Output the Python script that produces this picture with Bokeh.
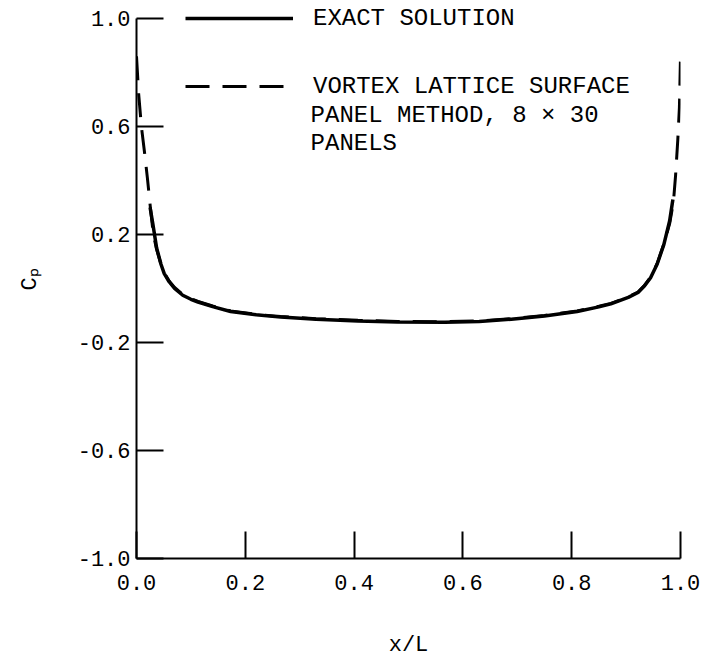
from bokeh.plotting import figure
from bokeh.models import Range1d, FixedTicker, PrintfTickFormatter, Legend, LegendItem, Label
from bokeh.embed import file_html
from bokeh.resources import INLINE

# Exact solution (solid)
exact_x = [0.025, 0.03, 0.037, 0.045, 0.051, 0.06, 0.07, 0.085, 0.1, 0.113, 0.14, 0.173,
           0.22, 0.265, 0.33, 0.407, 0.48, 0.567, 0.63, 0.689, 0.75, 0.81, 0.85, 0.872,
           0.904, 0.922, 0.934, 0.945, 0.957, 0.969, 0.98, 0.986]
exact_cp = [0.30, 0.24, 0.15, 0.09, 0.055, 0.025, 0.0, -0.025, -0.04, -0.05, -0.067, -0.085,
            -0.097, -0.106, -0.114, -0.12, -0.124, -0.125, -0.122, -0.114, -0.102, -0.085, -0.068, -0.057,
            -0.033, -0.015, 0.01, 0.04, 0.09, 0.16, 0.25, 0.33]

# Vortex lattice surface panel method (dashed)
vl_x = [0.0, 0.004, 0.009, 0.015, 0.02, 0.026, 0.031, 0.037, 0.045, 0.051, 0.06, 0.07,
        0.085, 0.1, 0.113, 0.14, 0.173, 0.22, 0.265, 0.33, 0.407, 0.48, 0.567, 0.63,
        0.689, 0.75, 0.81, 0.85, 0.872, 0.904, 0.922, 0.934, 0.945, 0.957, 0.969, 0.98,
        0.987, 0.991, 0.995, 0.998, 1.0]
vl_cp = [0.86, 0.72, 0.60, 0.50, 0.41, 0.29, 0.2, 0.145, 0.09, 0.058, 0.028, 0.004,
         -0.022, -0.038, -0.048, -0.065, -0.083, -0.096, -0.104, -0.112, -0.118, -0.122, -0.123, -0.12,
         -0.112, -0.1, -0.083, -0.066, -0.055, -0.031, -0.013, 0.012, 0.042, 0.092, 0.163, 0.24,
         0.32, 0.42, 0.55, 0.67, 0.86]

x_ticks = [0.0, 0.2, 0.4, 0.6, 0.8, 1.0]
y_ticks = [-1.0, -0.6, -0.2, 0.2, 0.6, 1.0]

legend_labels = ["EXACT SOLUTION", "VORTEX LATTICE SURFACE"]
legend_extra = ["PANEL METHOD, 8 \u00d7 30", "PANELS"]

FONT = "Liberation Mono"

p = figure(frame_width=544, frame_height=558, min_border_left=136, min_border_right=28,
           min_border_top=0, min_border_bottom=100,
           x_range=Range1d(0, 1), y_range=Range1d(-1, 1 + 18 / 270),
           output_backend="svg", toolbar_location=None)
p.xgrid.visible = False
p.ygrid.visible = False
p.outline_line_color = None

r1 = p.line(exact_x, exact_cp, line_color="black", line_width=3.5)
r2 = p.line(vl_x, vl_cp, line_color="black", line_width=3, line_dash="24 13")

for ax in (p.xaxis[0], p.yaxis[0]):
    ax.axis_line_width = 2
    ax.axis_line_color = "black"
    ax.major_tick_line_width = 2
    ax.major_tick_line_color = "black"
    ax.major_tick_in = 27
    ax.major_tick_out = 0
    ax.minor_tick_line_color = None
    ax.major_label_text_font = FONT
    ax.major_label_text_font_size = "22px"
    ax.major_label_text_color = "black"
    ax.axis_label_text_font = FONT
    ax.axis_label_text_font_size = "22px"
    ax.axis_label_text_font_style = "normal"
    ax.axis_label_text_color = "black"
    ax.formatter = PrintfTickFormatter(format="%.1f")

p.xaxis[0].ticker = FixedTicker(ticks=x_ticks)
p.yaxis[0].ticker = FixedTicker(ticks=y_ticks)
p.yaxis[0].bounds = (-1, 1)
p.xaxis[0].bounds = (0, 1)
p.xaxis[0].axis_label = "x/L"
p.yaxis[0].axis_label = "C\u209a"
p.xaxis[0].major_label_standoff = 16
p.xaxis[0].axis_label_standoff = 40
p.yaxis[0].major_label_standoff = 6
p.yaxis[0].axis_label_standoff = 32

legend = Legend(items=[LegendItem(label=legend_labels[0], renderers=[r1]),
                       LegendItem(label=legend_labels[1], renderers=[r2])],
                location=(49, 540 + 14 - 28 - 40 - 28), orientation="vertical",
                glyph_width=108, glyph_height=28, label_standoff=20, spacing=40,
                padding=0, margin=0, border_line_color=None, background_fill_alpha=0,
                label_text_font=FONT, label_text_font_size="24px", label_text_color="black")
p.add_layout(legend, "center")

for i, txt in enumerate(legend_extra):
    p.add_layout(Label(x=0.32, y=0.641 - i * 0.104, text=txt, text_font=FONT,
                       text_font_size="24px", text_color="black", text_baseline="middle"))

open("out.html", "w").write(file_html(p, INLINE))
